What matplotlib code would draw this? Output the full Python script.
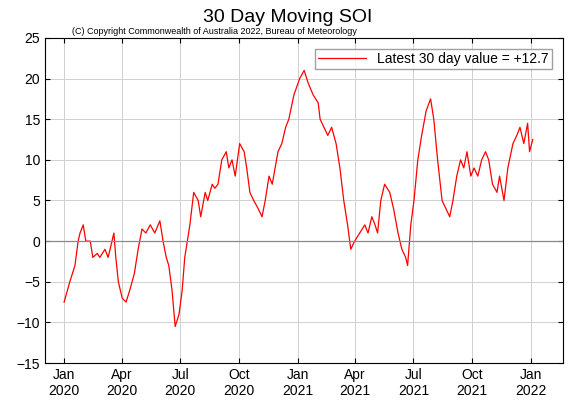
import numpy as np
import matplotlib
matplotlib.use("Agg")
import matplotlib.pyplot as plt
import matplotlib.dates as mdates

plt.rcParams['font.family'] = ['Liberation Sans', 'DejaVu Sans']

# days since 1 Jan 2020 and 30-day SOI values
days = [0, 9, 17, 22, 25, 30, 34, 41, 45, 52, 56, 64, 69, 75, 78, 81, 85, 91, 97, 103,
        110, 116, 122, 128, 135, 142, 150, 155, 160, 164, 169, 174, 180, 185, 189, 197, 203, 210, 214, 221,
        225, 232, 236, 241, 247, 254, 258, 263, 268, 275, 282, 286, 291, 297, 304, 310, 315, 321, 326, 335,
        341, 347, 352, 360, 369, 376, 382, 390, 398, 401, 407, 413, 419, 426, 432, 438, 444, 449, 455, 463,
        471, 476, 482, 487, 491, 496, 502, 510, 516, 523, 529, 535, 538, 543, 548, 554, 560, 567, 574, 579,
        585, 592, 598, 604, 609, 615, 621, 626, 631, 637, 642, 648, 654, 660, 665, 671, 678, 682, 689, 695,
        703, 709, 714, 720, 726, 729, 734]
soi = [-7.5, -5, -3, 0, 1, 2, 0, 0, -2, -1.5, -2, -1, -2, 0, 1, -2, -5, -7, -7.5, -6,
       -4, -1, 1.5, 1, 2, 1, 2.5, 0, -2, -3, -6, -10.5, -9, -6, -2, 2, 6, 5, 3, 6,
       5, 7, 6.5, 7, 10, 11, 9, 10, 8, 12, 11, 9, 6, 5, 4, 3, 5, 8, 7, 11,
       12, 14, 15, 18, 20, 21, 19.5, 18, 17, 15, 14, 13, 14, 12, 9, 5, 2, -1, 0, 1,
       2, 1, 3, 2, 1, 5, 7, 6, 4, 1, -1, -2, -3, 2, 5, 10, 13, 16, 17.5, 15,
       10, 5, 4, 3, 5, 8, 10, 9, 11, 8, 9, 8, 10, 11, 10, 7, 6, 8, 5, 9,
       12, 13, 14, 12, 14.5, 11, 12.5]

dates = np.datetime64('2020-01-01') + np.array(days).astype('timedelta64[D]')

fig = plt.figure(figsize=(5.76, 4.03), dpi=100)
ax = fig.add_axes([0.078, 0.099, 0.899, 0.807])
ax.plot(dates, soi, color='red', lw=0.9, label='Latest 30 day value = +12.7')
ax.axhline(0, color='#888888', lw=0.9)
ax.set_ylim(-15, 25)
ax.set_yticks(range(-15, 30, 5))
ax.set_xlim(np.datetime64('2019-12-02'), np.datetime64('2022-02-20'))
ticks = [np.datetime64(d) for d in ['2020-01-01', '2020-04-01', '2020-07-01', '2020-10-01',
                                    '2021-01-01', '2021-04-01', '2021-07-01', '2021-10-01', '2022-01-01']]
ax.set_xticks(ticks)
ax.xaxis.set_major_formatter(mdates.DateFormatter('%b\n%Y'))
ax.grid(color='#d0d0d0', lw=0.7)
ax.tick_params(direction='in', top=True, right=True, labelsize=10)
ax.legend(loc='upper right', fontsize=10, frameon=True, fancybox=False,
          edgecolor='#888888', borderpad=0.2, handlelength=3.5, borderaxespad=0.8)
fig.text(0.5, 0.945, '30 Day Moving SOI', ha='center', fontsize=14)
fig.text(0.125, 0.915, '(C) Copyright Commonwealth of Australia 2022, Bureau of Meteorology', fontsize=6.5)
fig.savefig('out.png', dpi=100)
